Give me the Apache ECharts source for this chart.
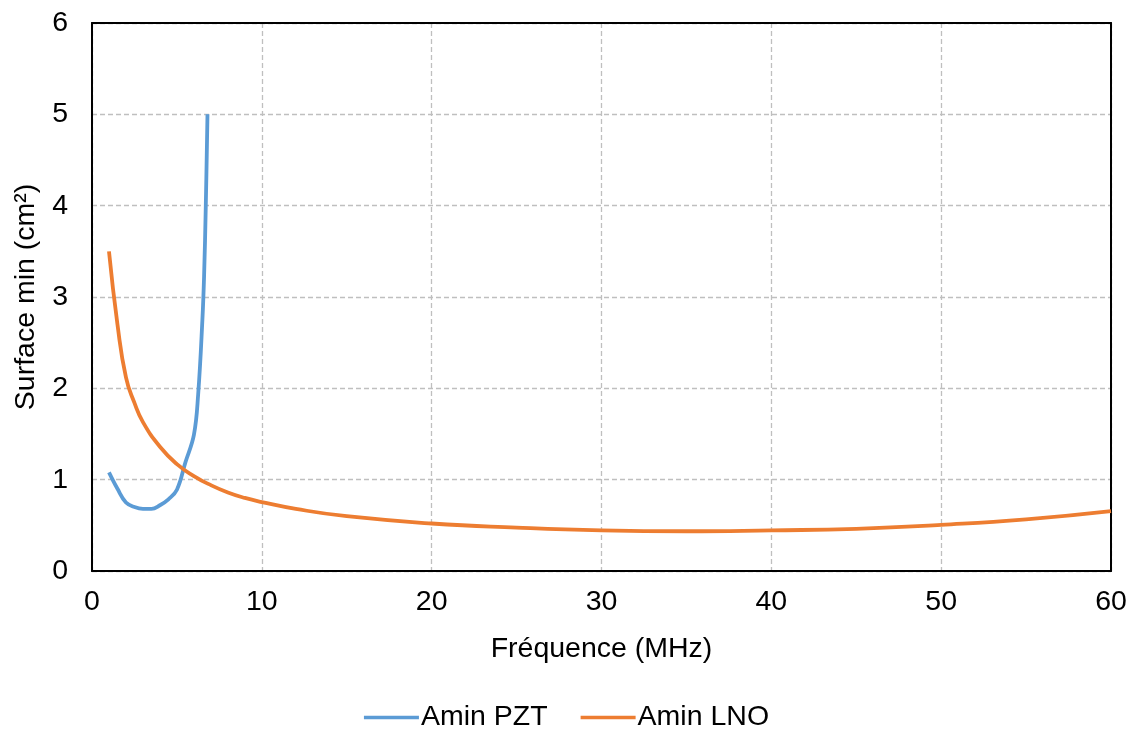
<!DOCTYPE html>
<html>
<head>
<meta charset="utf-8">
<script src="https://cdn.jsdelivr.net/npm/echarts@6/dist/echarts.min.js"></script>
<style>
html,body{margin:0;padding:0;background:#fff;}
#chart{width:1133px;height:735px;}
</style>
</head>
<body>
<div id="chart"></div>
<script>
// Data
const pztFreq = [1, 1.5, 2, 2.5, 3, 3.5, 4, 4.5, 5, 5.5, 6, 6.25, 6.5, 6.6, 6.7, 6.8];
const pztArea = [1.08, 0.90, 0.75, 0.70, 0.68, 0.68, 0.72, 0.785, 0.89, 1.19, 1.49, 1.93, 2.75, 3.23, 4.0, 5.0];

const lnoFreq = [1, 1.5, 2, 2.5, 3, 4, 5, 6, 7, 8, 9, 10, 12, 15, 20, 25, 30, 35, 40, 45, 50, 55, 60];
const lnoArea = [3.50, 2.70, 2.12, 1.84, 1.63, 1.36, 1.17, 1.04, 0.94, 0.86, 0.80, 0.755, 0.68, 0.60, 0.52, 0.475, 0.445, 0.435, 0.445, 0.462, 0.505, 0.565, 0.655];

const seriesNames = ['Amin PZT', 'Amin LNO'];
const xTitle = 'Fréquence (MHz)';
const yTitle = 'Surface min (cm²)';

const pair = (xs, ys) => xs.map((x, i) => [x, ys[i]]);
const font = 'Liberation Sans, Arial, sans-serif';
const fs = 28.5;
const gridLine = { show: true, lineStyle: { color: '#BFBFBF', type: [5, 3], width: 1.3 } };
const blackLine = { show: true, onZero: false, lineStyle: { color: '#000', width: 2 } };

const chart = echarts.init(document.getElementById('chart'));
chart.setOption({
  animation: false,
  backgroundColor: '#ffffff',
  textStyle: { fontFamily: font, color: '#000' },
  grid: { left: 92, right: 22, top: 23, bottom: 164, containLabel: false },
  legend: {
    bottom: -2, left: 'center',
    data: seriesNames,
    icon: 'rect', itemWidth: 55, itemHeight: 3.5, itemGap: 33,
    textStyle: { fontFamily: font, fontSize: fs, color: '#000', padding: [0, 0, 0, -3] }
  },
  xAxis: [{
    type: 'value', min: 0, max: 60, interval: 10,
    name: xTitle, nameLocation: 'middle', nameGap: 64,
    nameTextStyle: { fontFamily: font, fontSize: fs, color: '#000' },
    axisLine: blackLine,
    axisTick: { show: false },
    axisLabel: { fontFamily: font, fontSize: fs, color: '#000', margin: 17 },
    splitLine: gridLine
  }, {
    type: 'value', min: 0, max: 60, interval: 10, position: 'top',
    axisLine: blackLine, axisTick: { show: false }, axisLabel: { show: false }, splitLine: { show: false }
  }],
  yAxis: [{
    type: 'value', min: 0, max: 6, interval: 1,
    name: yTitle, nameLocation: 'middle', nameGap: 51,
    nameTextStyle: { fontFamily: font, fontSize: fs, color: '#000' },
    axisLine: blackLine,
    axisTick: { show: false },
    axisLabel: { fontFamily: font, fontSize: fs, color: '#000', margin: 24 },
    splitLine: gridLine
  }, {
    type: 'value', min: 0, max: 6, interval: 1, position: 'right',
    axisLine: blackLine, axisTick: { show: false }, axisLabel: { show: false }, splitLine: { show: false }
  }],
  series: [
    {
      name: seriesNames[0], type: 'line', data: pair(pztFreq, pztArea),
      showSymbol: false, symbol: 'none', smooth: 0.4,
      lineStyle: { color: '#5B9BD5', width: 3.8 }, itemStyle: { color: '#5B9BD5' }
    },
    {
      name: seriesNames[1], type: 'line', data: pair(lnoFreq, lnoArea),
      showSymbol: false, symbol: 'none', smooth: 0.5,
      lineStyle: { color: '#ED7D31', width: 3.8 }, itemStyle: { color: '#ED7D31' }
    }
  ]
});
</script>
</body>
</html>
